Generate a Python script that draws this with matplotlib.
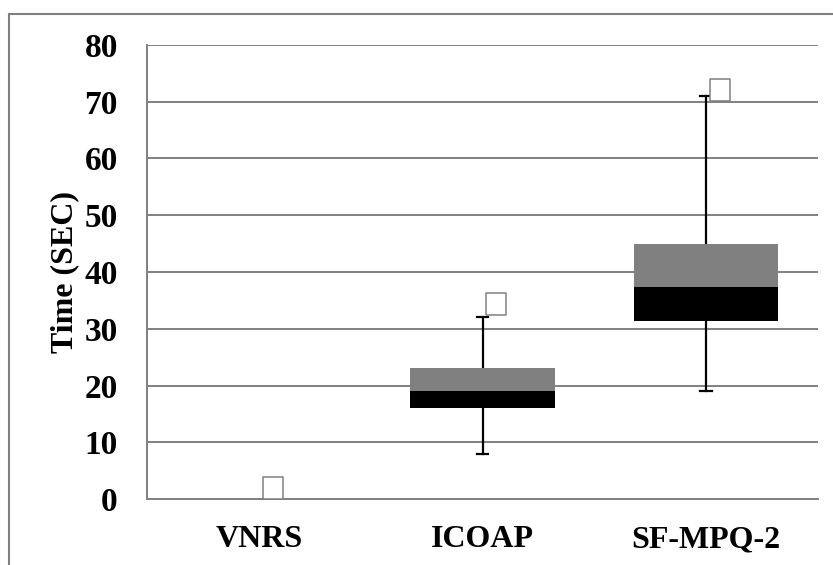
import matplotlib.pyplot as plt
import matplotlib.patches as mpatches
import numpy as np

plt.rcParams['font.family'] = ['Liberation Serif', 'DejaVu Serif']
plt.rcParams['font.weight'] = 'bold'

# Data
categories = ['VNRS', 'ICOAP', 'SF-MPQ-2']
box_low = [0, 16, 31.3]       # bottom of black part
box_mid = [0, 19, 37.4]       # black / gray boundary
box_high = [0, 23, 45]        # top of gray part
whisk_min = [np.nan, 8, 19]
whisk_max = [np.nan, 32, 71]
marker_val = [2, 34.4, 72.1]

fig = plt.figure(figsize=(8.33, 5.65), dpi=100)
ax = fig.add_axes([147/833, 1 - 499/565, (818-147)/833, (499-45)/565])

x = np.arange(len(categories))
low = np.array(box_low)
mid = np.array(box_mid)
high = np.array(box_high)

#Stacked bars for the boxes
ax.bar(x, mid - low, bottom=low, width=0.645, color='black', zorder=3)
ax.bar(x, high - mid, bottom=mid, width=0.645, color='#808080', zorder=3)

#Whiskers
for i in range(len(categories)):
    if np.isnan(whisk_min[i]):
        continue
    ax.plot([x[i], x[i]], [whisk_max[i], high[i]], color='black', lw=1.6, zorder=2)
    ax.plot([x[i], x[i]], [whisk_min[i], low[i]], color='black', lw=1.6, zorder=2)
    for v in (whisk_min[i], whisk_max[i]):
        ax.plot([x[i] - 0.026, x[i] + 0.026], [v, v], color='black', lw=1.6, zorder=2)

#Outlier markers (tall empty boxes)
rect = [(-0.42, -0.5), (0.42, -0.5), (0.42, 0.5), (-0.42, 0.5), (-0.42, -0.5)]
ax.scatter(x + 0.062, marker_val, marker=rect, s=266, facecolor='white',
           edgecolor='#808080', linewidths=1.1, zorder=4, clip_on=False)

ax.set_xlim(-0.5, 2.5)
ax.set_ylim(0, 80)
ax.set_yticks(range(0, 81, 10))
ax.set_xticks(x)
ax.set_xticklabels(categories, fontsize=23)
ax.tick_params(axis='both', length=0)
ax.tick_params(axis='y', pad=21, labelsize=24)
ax.tick_params(axis='x', pad=19)
ax.yaxis.grid(True, color='#808080', lw=1.4, zorder=0)
ax.set_axisbelow(True)
for s in ['top', 'right']:
    ax.spines[s].set_visible(False)
ax.spines['left'].set_color('#808080')
ax.spines['bottom'].set_color('#808080')
ax.spines['left'].set_linewidth(1.4)
ax.spines['bottom'].set_linewidth(1.4)
ax.set_ylabel('Time (SEC)', fontsize=23, fontweight='bold', labelpad=4)

#Outer chart border
fig.patches.append(mpatches.Rectangle((9/833, -0.05), 1.1, 1 - 14/565 + 0.05,
                                      transform=fig.transFigure, fill=False,
                                      edgecolor='#808080', lw=1.5))

fig.savefig('out.png', dpi=100)
